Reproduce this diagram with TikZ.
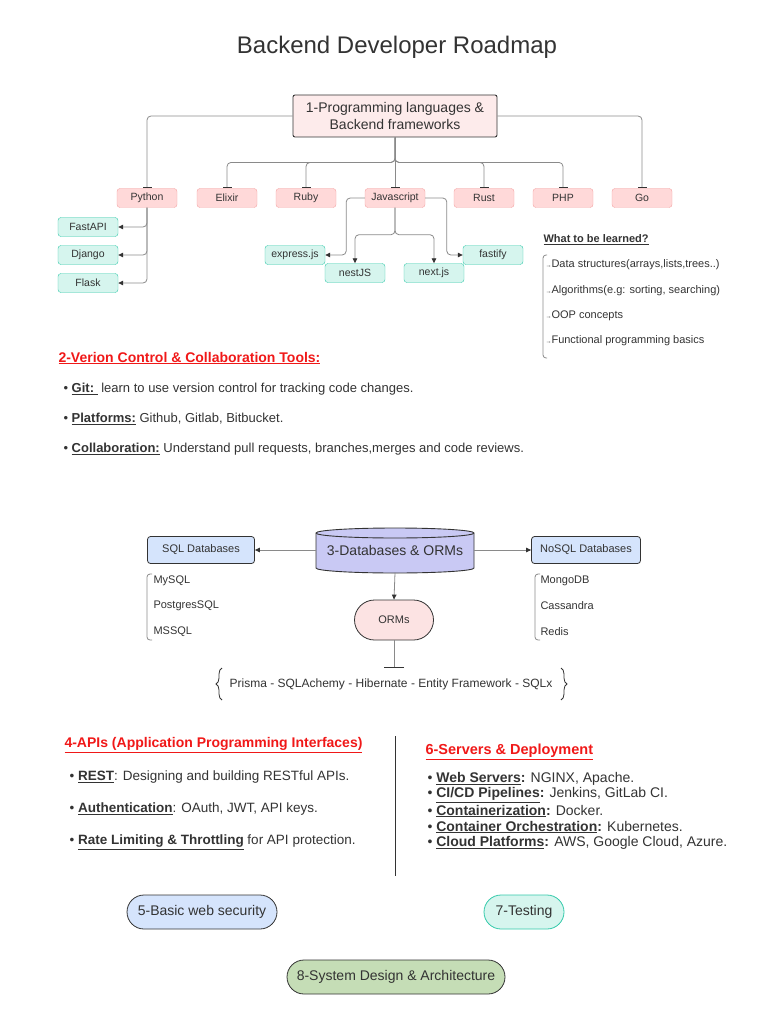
\documentclass[tikz,border=0pt]{standalone}
\usepackage{fontspec}
\setmainfont{Liberation Sans}
\usetikzlibrary{arrows.meta,decorations.pathreplacing}

\definecolor{txt}{HTML}{333333}
\definecolor{linegray}{HTML}{8A8A8A}
\definecolor{langfill}{HTML}{FFD9D9}
\definecolor{langline}{HTML}{F4A3A3}
\definecolor{fwfill}{HTML}{D6F5EE}
\definecolor{fwline}{HTML}{33C9AA}
\definecolor{mainfill}{HTML}{FDEBEB}
\definecolor{dbfill}{HTML}{C9C9F4}
\definecolor{bluefill}{HTML}{D5E4FC}
\definecolor{ormfill}{HTML}{FCE3E3}
\definecolor{greenfill}{HTML}{C5DDB6}
\definecolor{headred}{HTML}{F01818}

\begin{document}
\begin{tikzpicture}[x=1pt, y=-1pt,
  every node/.style={text=txt},
  fs/.style={font=\fontsize{#1}{#1}\selectfont},
  lang/.style={draw=langline, fill=langfill, rounded corners=3pt, minimum width=60, minimum height=19, inner sep=1pt, fs=10.5},
  fw/.style={draw=fwline, fill=fwfill, rounded corners=3pt, minimum width=60, minimum height=19, inner sep=1pt, fs=10.5},
  conn/.style={draw=linegray, line width=.8pt, rounded corners=4pt},
  tee/.style={conn, -{Bar[width=9pt,line width=1.3pt,color=txt]}},
  arr/.style={conn, -{Triangle[length=5pt,width=4.5pt,color=txt]}},
  head/.style={anchor=west, text=headred, font=\fontsize{#1}{#1}\selectfont\bfseries},
  item/.style={anchor=west, fs=#1},
  pill/.style={draw=txt, line width=.8pt, minimum height=34, rounded corners=17pt, fs=14},
  bracket/.style={draw=linegray, line width=.8pt, rounded corners=3pt}]

\useasboundingbox (0,0) rectangle (768,1024);

% title
\node[fs=24] (title) at (397,47) {Backend Developer Roadmap};

% 1 - languages
\node[draw=txt, line width=.9pt, fill=mainfill, rounded corners=2pt, minimum width=204, minimum height=42, inner sep=2pt, align=center, font=\fontsize{14}{17}\selectfont] (main) at (395,116) {1-Programming languages \&\\Backend frameworks};

\node[lang] (python) at (147,198) {Python};
\node[lang] (elixir) at (227,198) {Elixir};
\node[lang] (ruby) at (306,198) {Ruby};
\node[lang] (js) at (395,198) {Javascript};
\node[lang] (rust) at (484,198) {Rust};
\node[lang] (php) at (563,198) {PHP};
\node[lang] (go) at (642,198) {Go};

\draw[tee] (main.west) -| (python.north);
\draw[tee] (main.east) -| (go.north);
\draw[tee] (main.south) -- (js.north);
\foreach \n in {elixir,ruby,rust,php}
  \draw[tee] (main.south) -- ++(0,25) -| (\n.north);

\node[fw] (fastapi) at (88,227) {FastAPI};
\node[fw] (django) at (88,255) {Django};
\node[fw] (flask) at (88,283) {Flask};
\foreach \n in {fastapi,django,flask}
  \draw[arr] (python.south) |- (\n.east);

\node[fw] (express) at (295,255) {express.js};
\node[fw] (nestjs) at (355,273) {nestJS};
\node[fw] (nextjs) at (434,273) {next.js};
\node[fw] (fastify) at (493,255) {fastify};
\draw[arr] (js.west) -| ([xshift=21pt]express.east) -- (express.east);
\draw[arr] (js.east) -| ([xshift=-16pt]fastify.west) -- (fastify.west);
\draw[arr] (js.south) -- ++(0,27) -| (nestjs.north);
\draw[arr] (js.south) -- ++(0,27) -| (nextjs.north);

% what to be learned
\node[anchor=west, font=\fontsize{11}{11}\selectfont\bfseries] (learn) at (540,240) {\underline{What to be learned?}};
\draw[bracket] (547,255) -- (543,255) -- (543,358) -- (547,358);
\node[item=11] (ds) at (542,265) {{\fontsize{6}{6}\selectfont →}Data structures(arrays,lists,trees..)};
\node[item=11] (algo) at (542,291) {{\fontsize{6}{6}\selectfont →}Algorithms(e.g: sorting, searching)};
\node[item=11] (oop) at (542,316) {{\fontsize{6}{6}\selectfont →}OOP concepts};
\node[item=11] (func) at (542,341) {{\fontsize{6}{6}\selectfont →}Functional programming basics};

% 2 - version control
\node[head=14] (vc) at (55,358) {\underline{2-Verion Control \& Collaboration Tools:}};
\node[item=13] (git) at (60,389) {• \textbf{\underline{Git:\ }}\ learn to use version control for tracking code changes.};
\node[item=13] (plat) at (60,419) {• \textbf{\underline{Platforms:}} Github, Gitlab, Bitbucket.};
\node[item=13] (collab) at (60,449) {• \textbf{\underline{Collaboration:}} Understand pull requests, branches,merges and code reviews.};

% 3 - databases
\node[minimum width=158, minimum height=45] (db) at (395,550) {};
\draw[draw=txt, fill=dbfill, line width=.9pt] (316,533) -- (316,568) arc[start angle=180, end angle=360, x radius=79pt, y radius=5pt] -- (474,533) arc[start angle=0, end angle=180, x radius=79pt, y radius=5pt] -- cycle;
\draw[draw=txt, line width=.9pt] (316,533) arc[start angle=180, end angle=360, x radius=79pt, y radius=5pt];
\node[fs=14] at (db) {3-Databases \& ORMs};

\node[draw=txt, line width=.8pt, fill=bluefill, rounded corners=3pt, minimum width=107, minimum height=27, fs=11] (sql) at (201,550) {SQL Databases};
\node[draw=txt, line width=.8pt, fill=bluefill, rounded corners=3pt, minimum width=109, minimum height=27, fs=11] (nosql) at (586,550) {NoSQL Databases};
\draw[arr] (db.west) -- (sql.east);
\draw[arr] (db.east) -- (nosql.west);

\draw[bracket] (152,574) -- (147,574) -- (147,640) -- (152,640);
\node[item=11] (mysql) at (150,581) {MySQL};
\node[item=11] (pg) at (150,606) {PostgresSQL};
\node[item=11] (ms) at (150,632) {MSSQL};
\draw[bracket] (540,574) -- (535,574) -- (535,640) -- (540,640);
\node[item=11] (mongo) at (537,581) {MongoDB};
\node[item=11] (cass) at (537,606) {Cassandra};
\node[item=11] (redis) at (537,632) {Redis};

\node[draw=txt, line width=.8pt, fill=ormfill, minimum width=79, minimum height=40, rounded corners=20pt, fs=11] (orms) at (394,620) {ORMs};
\draw[arr] (db.south) -- (orms.north);

\node[fs=12] (ormlist) at (391,684) {Prisma - SQLAchemy - Hibernate - Entity Framework - SQLx};
\draw[conn, -{Bar[width=20pt,line width=.9pt,color=txt]}] (orms.south) -- (394,668);
\draw[draw=txt, line width=.8pt, decorate, decoration={brace, amplitude=6pt}] (222,700) -- (222,668);
\draw[draw=txt, line width=.8pt, decorate, decoration={brace, amplitude=6pt}] (561,668) -- (561,700);

% 4 - APIs
\node[head=14] (api) at (61,745) {\underline{4-APIs (Application Programming Interfaces)}};
\node[item=13.5] (rest) at (66,777) {• \textbf{\underline{REST}}: Designing and building RESTful APIs.};
\node[item=13.5] (auth) at (66,809) {• \textbf{\underline{Authentication}}: OAuth, JWT, API keys.};
\node[item=13.5] (rate) at (66,842) {• \textbf{\underline{Rate Limiting \& Throttling}} for API protection.};

\draw[draw=txt, line width=.8pt] (395,736) -- (395,876);

% 6 - servers
\node[head=14.5] (srv) at (422,752) {\underline{6-Servers \& Deployment}};
\node[item=14] (web) at (424,779) {• \textbf{\underline{Web Servers}:} NGINX, Apache.};
\node[item=14] (cicd) at (424,795) {• \textbf{\underline{CI/CD Pipelines}:} Jenkins, GitLab CI.};
\node[item=14] (cont) at (424,811) {• \textbf{\underline{Containerization}:} Docker.};
\node[item=14] (orch) at (424,827) {• \textbf{\underline{Container Orchestration}:} Kubernetes.};
\node[item=14] (cloud) at (424,843) {• \textbf{\underline{Cloud Platforms}:} AWS, Google Cloud, Azure.};

% 5, 7, 8
\node[pill, fill=bluefill, minimum width=150] (sec) at (202,912) {5-Basic web security};
\node[pill, draw=fwline, fill=fwfill, minimum width=80] (test) at (524,912) {7-Testing};
\node[pill, fill=greenfill, minimum width=218] (sys) at (396,977) {8-System Design \& Architecture};

\end{tikzpicture}
\end{document}
